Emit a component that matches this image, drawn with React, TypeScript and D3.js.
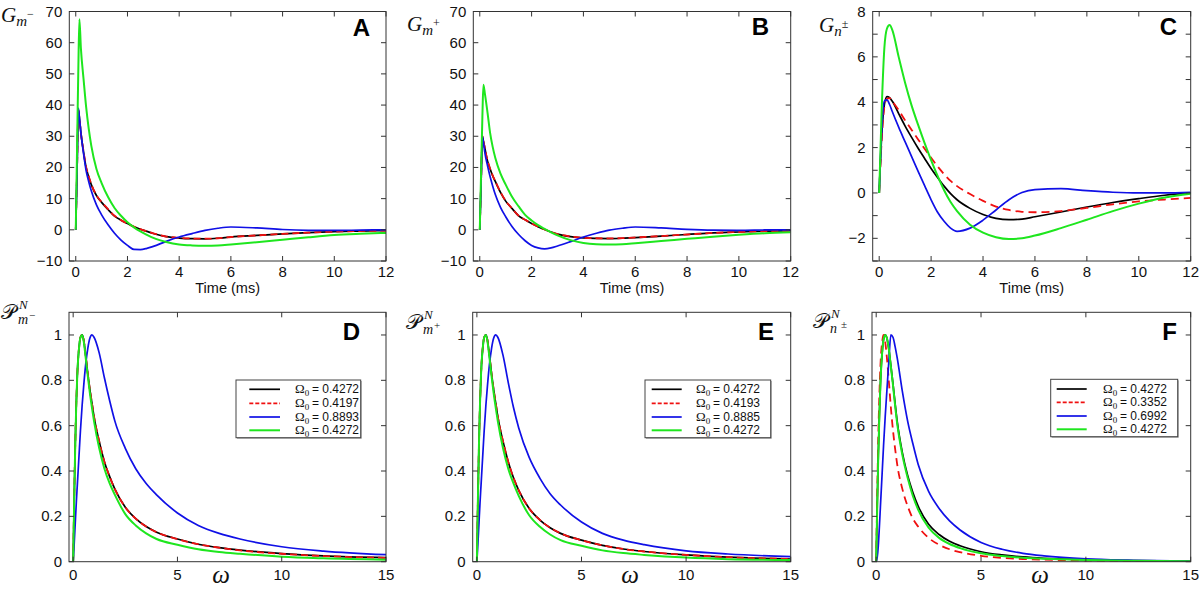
import React from 'react';
import * as d3 from 'd3';

// ---------- DATA ----------
// Top row: impulse responses vs time (ms)
const timeGrid = [0, 0.05, 0.1, 0.14, 0.2, 0.3, 0.4, 0.5, 0.6, 0.8, 1.0, 1.25, 1.5, 1.75, 2.0, 2.25, 2.5, 2.75, 3.0, 3.5, 4, 4.5, 5, 5.5, 6, 7, 8, 9, 10, 11, 12];

const gmMinusBlack = [0, 19, 38.5, 36, 31, 25, 20, 17, 14.5, 11, 8.8, 6.5, 4.4, 3.1, 2.0, 1.0, 0.2, -0.5, -1.2, -2.2, -2.65, -2.85, -2.9, -2.7, -2.3, -1.8, -1.3, -0.9, -0.6, -0.4, -0.25];
const gmMinusRed = [0, 19, 38.5, 36, 31, 25.2, 20.2, 17.2, 14.7, 11.1, 8.9, 6.6, 4.5, 3.1, 2.0, 1.0, 0.2, -0.5, -1.15, -2.15, -2.6, -2.8, -2.85, -2.7, -2.3, -1.8, -1.3, -0.9, -0.6, -0.4, -0.25];
const gmMinusBlue = [0, 19, 39, 36, 31, 24.5, 19, 15.5, 12.5, 8, 4.8, 1.6, -1.1, -3.3, -5, -6.3, -6.35, -5.95, -5.3, -3.7, -2.3, -1.2, -0.2, 0.5, 0.9, 0.6, 0.1, -0.15, -0.2, -0.1, 0];
const gmMinusGreen = [0, 26, 52, 67.5, 58, 48.5, 39.5, 32.5, 27, 19.5, 15, 10.5, 7, 4.5, 2.4, 0.8, -0.5, -1.6, -2.6, -3.9, -4.7, -5.0, -5.1, -5.0, -4.7, -4.0, -3.2, -2.4, -1.7, -1.3, -1.0];

const gmPlusBlack = [0, 15, 30, 28.5, 26, 22, 19.5, 17.3, 15.5, 12, 9.2, 6.8, 4.5, 3.2, 2.0, 1.0, 0.1, -0.7, -1.4, -2.2, -2.6, -2.75, -2.8, -2.7, -2.5, -2.0, -1.5, -1.0, -0.7, -0.45, -0.3];
const gmPlusRed = [0, 15, 30, 28.5, 26, 22.2, 19.6, 17.4, 15.6, 12.1, 9.3, 6.8, 4.5, 3.2, 2.0, 1.0, 0.1, -0.7, -1.35, -2.15, -2.55, -2.7, -2.75, -2.65, -2.45, -2.0, -1.5, -1.0, -0.7, -0.45, -0.3];
const gmPlusBlue = [0, 15, 30, 28, 24.5, 20.5, 17, 14, 11.3, 7.2, 4.2, 1.0, -1.5, -3.5, -5.0, -5.8, -6.1, -5.8, -5.2, -3.8, -2.3, -1.1, -0.1, 0.5, 0.9, 0.6, 0.15, -0.1, -0.15, -0.05, 0];
const gmPlusGreen = [0, 18, 36, 46.5, 43.5, 37.5, 31, 26.5, 23, 18, 14.5, 10.5, 7.5, 4.8, 3.0, 1.5, 0.3, -0.8, -1.8, -3.3, -4.2, -4.6, -4.7, -4.6, -4.3, -3.6, -2.9, -2.2, -1.6, -1.1, -0.8];

const timeGridC = [0, 0.1, 0.2, 0.3, 0.4, 0.5, 0.75, 1, 1.25, 1.5, 1.75, 2, 2.25, 2.5, 2.75, 3, 3.5, 4, 4.5, 5, 5.5, 6, 7, 8, 9, 10, 11, 12];
const gnBlack = [0, 2.6, 3.9, 4.25, 4.2, 4.05, 3.5, 2.95, 2.45, 1.97, 1.52, 1.08, 0.68, 0.3, -0.03, -0.3, -0.68, -0.95, -1.12, -1.18, -1.15, -1.05, -0.84, -0.62, -0.42, -0.25, -0.1, 0.0];
const gnRed = [0, 2.4, 3.8, 4.15, 4.18, 4.05, 3.65, 3.2, 2.78, 2.36, 1.95, 1.55, 1.17, 0.83, 0.53, 0.3, -0.05, -0.35, -0.6, -0.75, -0.83, -0.85, -0.8, -0.66, -0.5, -0.37, -0.29, -0.22];
const gnBlue = [0, 2.8, 4.05, 4.1, 3.9, 3.6, 2.9, 2.25, 1.6, 0.95, 0.32, -0.3, -0.85, -1.25, -1.55, -1.69, -1.55, -1.2, -0.75, -0.3, 0.02, 0.15, 0.19, 0.1, 0.03, 0.0, 0.0, 0.03];
const gnGreen = [0, 3.8, 6.4, 7.25, 7.4, 7.2, 6.0, 4.85, 3.85, 3.0, 2.2, 1.45, 0.75, 0.12, -0.4, -0.8, -1.4, -1.75, -1.95, -2.03, -2.0, -1.88, -1.55, -1.18, -0.8, -0.47, -0.2, -0.03];

// Bottom row: normalized power spectra vs omega
const omegaGrid = [0, 0.05, 0.1, 0.15, 0.2, 0.3, 0.35, 0.43, 0.5, 0.6, 0.7, 0.8, 0.9, 1.0, 1.25, 1.5, 1.75, 2, 2.5, 3, 3.5, 4, 5, 6, 7, 8, 10, 12, 15];

const pmMinusBlack = [0, 0.28, 0.52, 0.7, 0.83, 0.96, 0.99, 1.0, 0.98, 0.91, 0.83, 0.76, 0.70, 0.64, 0.53, 0.44, 0.375, 0.32, 0.24, 0.19, 0.155, 0.13, 0.1, 0.077, 0.062, 0.051, 0.036, 0.026, 0.018];
const pmMinusRed = [0, 0.28, 0.52, 0.7, 0.83, 0.96, 0.99, 1.0, 0.98, 0.91, 0.83, 0.76, 0.70, 0.64, 0.53, 0.44, 0.375, 0.32, 0.24, 0.19, 0.155, 0.13, 0.1, 0.077, 0.062, 0.05, 0.035, 0.025, 0.017];
const pmMinusBlue = [0, 0.08, 0.17, 0.26, 0.34, 0.5, 0.58, 0.69, 0.77, 0.87, 0.94, 0.985, 1.0, 0.99, 0.92, 0.81, 0.71, 0.62, 0.5, 0.41, 0.345, 0.295, 0.215, 0.16, 0.125, 0.1, 0.066, 0.047, 0.031];
const pmMinusGreen = [0, 0.28, 0.52, 0.7, 0.83, 0.96, 0.99, 1.0, 0.975, 0.9, 0.82, 0.745, 0.68, 0.62, 0.5, 0.41, 0.345, 0.295, 0.21, 0.16, 0.125, 0.1, 0.075, 0.055, 0.043, 0.035, 0.022, 0.015, 0.009];

const pmPlusBlack = [0, 0.28, 0.52, 0.7, 0.83, 0.96, 0.99, 1.0, 0.98, 0.91, 0.83, 0.76, 0.70, 0.64, 0.53, 0.44, 0.37, 0.315, 0.235, 0.185, 0.15, 0.125, 0.095, 0.072, 0.056, 0.045, 0.03, 0.02, 0.012];
const pmPlusRed = [0, 0.28, 0.52, 0.7, 0.83, 0.96, 0.99, 1.0, 0.98, 0.91, 0.83, 0.76, 0.70, 0.64, 0.53, 0.44, 0.37, 0.315, 0.235, 0.185, 0.15, 0.125, 0.095, 0.072, 0.056, 0.045, 0.03, 0.02, 0.012];
const pmPlusBlue = [0, 0.08, 0.17, 0.26, 0.34, 0.5, 0.58, 0.69, 0.77, 0.87, 0.94, 0.985, 1.0, 0.99, 0.91, 0.79, 0.68, 0.59, 0.46, 0.37, 0.3, 0.25, 0.175, 0.125, 0.095, 0.075, 0.048, 0.034, 0.022];
const pmPlusGreen = [0, 0.28, 0.52, 0.7, 0.83, 0.96, 0.99, 1.0, 0.975, 0.9, 0.82, 0.745, 0.68, 0.62, 0.5, 0.41, 0.345, 0.29, 0.205, 0.155, 0.12, 0.095, 0.07, 0.05, 0.038, 0.03, 0.018, 0.011, 0.007];

const pnBlack = [0, 0.25, 0.47, 0.64, 0.78, 0.94, 0.98, 1.0, 0.99, 0.94, 0.865, 0.785, 0.70, 0.62, 0.48, 0.38, 0.305, 0.245, 0.165, 0.12, 0.09, 0.07, 0.044, 0.03, 0.021, 0.015, 0.009, 0.005, 0.003];
const pnRed = [0, 0.3, 0.55, 0.73, 0.86, 0.98, 1.0, 0.97, 0.91, 0.8, 0.68, 0.58, 0.5, 0.43, 0.32, 0.245, 0.19, 0.155, 0.105, 0.075, 0.055, 0.042, 0.026, 0.017, 0.012, 0.009, 0.005, 0.003, 0.002];
const pnBlue = [0, 0.02, 0.07, 0.15, 0.24, 0.42, 0.51, 0.64, 0.74, 0.88, 1.0, 0.99, 0.95, 0.9, 0.75, 0.62, 0.52, 0.43, 0.31, 0.235, 0.18, 0.14, 0.085, 0.055, 0.037, 0.026, 0.013, 0.007, 0.003];
const pnGreen = [0, 0.25, 0.47, 0.64, 0.78, 0.94, 0.98, 1.0, 0.99, 0.94, 0.86, 0.78, 0.69, 0.61, 0.47, 0.37, 0.29, 0.23, 0.15, 0.105, 0.078, 0.06, 0.037, 0.025, 0.017, 0.013, 0.007, 0.004, 0.002];

// Ticks and legend labels
const timeTicks = [0, 2, 4, 6, 8, 10, 12];
const gmTicks = [-10, 0, 10, 20, 30, 40, 50, 60, 70];
const gnTicks = [-3, -2, -1, 0, 1, 2, 3, 4, 5, 6, 7, 8];
const gnTickLabels = [-2, 0, 2, 4, 6, 8];
const omegaTicks = [0, 5, 10, 15];
const powerTicks = [0, 0.2, 0.4, 0.6, 0.8, 1];
const omegaLabelsD = ['0.4272', '0.4197', '0.8893', '0.4272'];
const omegaLabelsE = ['0.4272', '0.4193', '0.8885', '0.4272'];
const omegaLabelsF = ['0.4272', '0.3352', '0.6992', '0.4272'];

// ---------- STYLE ----------
const SANS = "'Liberation Sans', Arial, Helvetica, sans-serif";
const SERIF = "'Liberation Serif', 'Times New Roman', serif";
const C_BLACK = '#000000';
const C_RED = '#f01010';
const C_BLUE = '#1010e6';
const C_GREEN = '#1ee61e';
const AXIS = '#333333';

type S = { values: number[]; color: string; dash?: string; width: number };
const mk = (k: number[], r: number[], b: number[], g: number[], dash = '7,4'): S[] => [
  { values: k, color: C_BLACK, width: 1.7 },
  { values: r, color: C_RED, width: 1.8, dash },
  { values: b, color: C_BLUE, width: 1.7 },
  { values: g, color: C_GREEN, width: 2 },
];

const fmtNum = (v: number) => (v < 0 ? '\u2212' + Math.abs(v) : String(v));

function Panel(p: any) {
  const { id, left, top, width, height, xDomain, yDomain, xs, series, xTicks, yTicks, yLabels, xLabelDy } = p;
  const x = d3.scaleLinear().domain(xDomain).range([left, left + width]);
  const y = d3.scaleLinear().domain(yDomain).range([top + height, top]);
  const line = d3
    .line<number>()
    .x((_, i) => x(xs[i]))
    .y((d) => y(d))
    .curve(d3.curveMonotoneX);
  const bottom = top + height;
  const right = left + width;
  const clip = `clip-${id}`;
  const TL = 5;
  return (
    <g>
      <defs>
        <clipPath id={clip}>
          <rect x={left} y={top} width={width} height={height} />
        </clipPath>
      </defs>
      <g clipPath={`url(#${clip})`}>
        {series.map((s: S, i: number) => (
          <path
            key={i}
            d={line(s.values) || ''}
            fill="none"
            stroke={s.color}
            strokeWidth={s.width}
            strokeDasharray={s.dash}
            strokeLinejoin="round"
          />
        ))}
      </g>
      <rect x={left} y={top} width={width} height={height} fill="none" stroke={AXIS} strokeWidth={1} />
      {xTicks.map((v: number) => (
        <g key={'x' + v}>
          <line x1={x(v)} x2={x(v)} y1={bottom} y2={bottom - TL} stroke={AXIS} strokeWidth={1} />
          <line x1={x(v)} x2={x(v)} y1={top} y2={top + TL} stroke={AXIS} strokeWidth={1} />
          <text x={x(v)} y={bottom + xLabelDy} textAnchor="middle" fontFamily={SANS} fontSize={15} fill="#111">
            {fmtNum(v)}
          </text>
        </g>
      ))}
      {yTicks.map((v: number) => (
        <g key={'y' + v}>
          <line x1={left} x2={left + TL} y1={y(v)} y2={y(v)} stroke={AXIS} strokeWidth={1} />
          <line x1={right} x2={right - TL} y1={y(v)} y2={y(v)} stroke={AXIS} strokeWidth={1} />
        </g>
      ))}
      {yLabels.map((v: number) => (
        <text key={'yl' + v} x={left - 7} y={y(v) + 5} textAnchor="end" fontFamily={SANS} fontSize={15} fill="#111">
          {fmtNum(v)}
        </text>
      ))}
    </g>
  );
}

function Legend({ bx, by, bw, bh, lx0, lx1, tx, rows, labels }: any) {
  const colors = [C_BLACK, C_RED, C_BLUE, C_GREEN];
  const dashes = [undefined, '4,2', undefined, undefined];
  const widths = [1.7, 1.7, 1.7, 2];
  return (
    <g>
      <rect x={bx + 1} y={by + 1} width={bw} height={bh} fill="#999" />
      <rect x={bx} y={by} width={bw} height={bh} fill="#fff" stroke="#444" strokeWidth={1} />
      {labels.map((lab: string, i: number) => (
        <g key={i}>
          <line x1={lx0} x2={lx1} y1={rows[i]} y2={rows[i]} stroke={colors[i]} strokeWidth={widths[i]} strokeDasharray={dashes[i]} />
          <text x={tx} y={rows[i] + 4} fontFamily={SERIF} fontSize={13} fill="#111">
            {'\u03A9'}
            <tspan fontSize={9} dy={3}>0</tspan>
          </text>
          <text x={tx + 17} y={rows[i] + 4} fontFamily={SANS} fontSize={12} fill="#111">
            {'= ' + lab}
          </text>
        </g>
      ))}
    </g>
  );
}

function GLabel({ x, y, sub, sup }: any) {
  return (
    <text x={x} y={y} fontFamily={SERIF} fill="#111">
      <tspan fontSize={21} fontStyle="italic">G</tspan>
      <tspan fontSize={15} fontStyle="italic" dy={4}>{sub}</tspan>
      <tspan fontSize={12} dy={-8}>{sup}</tspan>
    </text>
  );
}

function PLabel({ x, y, sub, sup }: any) {
  return (
    <g fontFamily={SERIF} fill="#111">
      <text x={x} y={y} fontSize={21}>{'\uD835\uDCAB'}</text>
      <text x={x + 18} y={y - 10} fontSize={13} fontStyle="italic">N</text>
      <text x={x + 17} y={y + 5} fontSize={14} fontStyle="italic">{sub}</text>
      <text x={x + 28} y={y} fontSize={11}>{sup}</text>
    </g>
  );
}

export default function App() {
  const topTop = 11.5;
  const topH = 249.5;
  const botTop = 312.3;
  const botH = 249.4;
  const top = [
    { id: 'A', left: 69.3, width: 316.7, series: mk(gmMinusBlack, gmMinusRed, gmMinusBlue, gmMinusGreen), yDomain: [-10, 70], yTicks: gmTicks, yLabels: gmTicks, xs: timeGrid },
    { id: 'B', left: 473.3, width: 317.4, series: mk(gmPlusBlack, gmPlusRed, gmPlusBlue, gmPlusGreen), yDomain: [-10, 70], yTicks: gmTicks, yLabels: gmTicks, xs: timeGrid },
    { id: 'C', left: 872.7, width: 318, series: mk(gnBlack, gnRed, gnBlue, gnGreen, '8,5'), yDomain: [-3, 8], yTicks: gnTicks, yLabels: gnTickLabels, xs: timeGridC },
  ];
  const bottom = [
    { id: 'D', left: 69, width: 317, series: mk(pmMinusBlack, pmMinusRed, pmMinusBlue, pmMinusGreen) },
    { id: 'E', left: 472.7, width: 318, series: mk(pmPlusBlack, pmPlusRed, pmPlusBlue, pmPlusGreen) },
    { id: 'F', left: 872, width: 318.7, series: mk(pnBlack, pnRed, pnBlue, pnGreen, '8,5') },
  ];
  return (
    <svg width={1200} height={589} viewBox="0 0 1200 589" style={{ position: 'absolute', left: 0, top: 0, display: 'block' }}>
      <rect width={1200} height={589} fill="#fff" />
      {top.map((p) => (
        <g key={p.id}>
          <Panel
            id={p.id}
            left={p.left}
            top={topTop}
            width={p.width}
            height={topH}
            xDomain={[-0.25, 12]}
            yDomain={p.yDomain}
            xs={p.xs}
            series={p.series}
            xTicks={timeTicks}
            yTicks={p.yTicks}
            yLabels={p.yLabels}
            xLabelDy={16}
          />
          <text x={p.left + p.width / 2} y={293} textAnchor="middle" fontFamily={SANS} fontSize={14.5} fill="#111">
            Time (ms)
          </text>
        </g>
      ))}
      {bottom.map((p) => (
        <g key={p.id}>
          <Panel
            id={p.id}
            left={p.left}
            top={botTop}
            width={p.width}
            height={botH}
            xDomain={[-0.2, 15]}
            yDomain={[0, 1.1]}
            xs={omegaGrid}
            series={p.series}
            xTicks={omegaTicks}
            yTicks={powerTicks}
            yLabels={powerTicks}
            xLabelDy={18}
          />
        </g>
      ))}
      {/* omega axis titles */}
      <text x={221} y={583} textAnchor="middle" fontFamily={SERIF} fontStyle="italic" fontSize={25} fill="#111">{'\u03C9'}</text>
      <text x={630} y={583} textAnchor="middle" fontFamily={SERIF} fontStyle="italic" fontSize={25} fill="#111">{'\u03C9'}</text>
      <text x={1040} y={583} textAnchor="middle" fontFamily={SERIF} fontStyle="italic" fontSize={25} fill="#111">{'\u03C9'}</text>

      {/* y-axis labels */}
      <GLabel x={1} y={22} sub="m" sup={'\u2212'} />
      <GLabel x={407} y={31} sub="m" sup="+" />
      <GLabel x={819} y={32} sub="n" sup={'\u00B1'} />
      <PLabel x={1} y={319} sub="m" sup={'\u2212'} />
      <PLabel x={406} y={329} sub="m" sup="+" />
      <PLabel x={813} y={328} sub="n" sup={'\u00B1'} />

      {/* panel letters */}
      {[
        ['A', 370, 36],
        ['B', 769, 35],
        ['C', 1177, 35],
        ['D', 360, 340],
        ['E', 774, 340],
        ['F', 1177, 340],
      ].map(([t, lx, ly]) => (
        <text key={t as string} x={lx as number} y={ly as number} textAnchor="end" fontFamily={SANS} fontWeight="bold" fontSize={24} fill="#000">
          {t}
        </text>
      ))}

      {/* legends */}
      <Legend bx={236} by={380} bw={124.7} bh={57.7} lx0={249.3} lx1={280} tx={295} rows={[389.3, 403.3, 417, 430.3]} labels={omegaLabelsD} />
      <Legend bx={645} by={380} bw={125.7} bh={57.7} lx0={651.7} lx1={681.7} tx={696} rows={[389.3, 403.3, 417, 430.3]} labels={omegaLabelsE} />
      <Legend bx={1050.7} by={379.3} bw={127} bh={57.4} lx0={1056.7} lx1={1086.7} tx={1103} rows={[389, 402.3, 416, 429.3]} labels={omegaLabelsF} />
    </svg>
  );
}
